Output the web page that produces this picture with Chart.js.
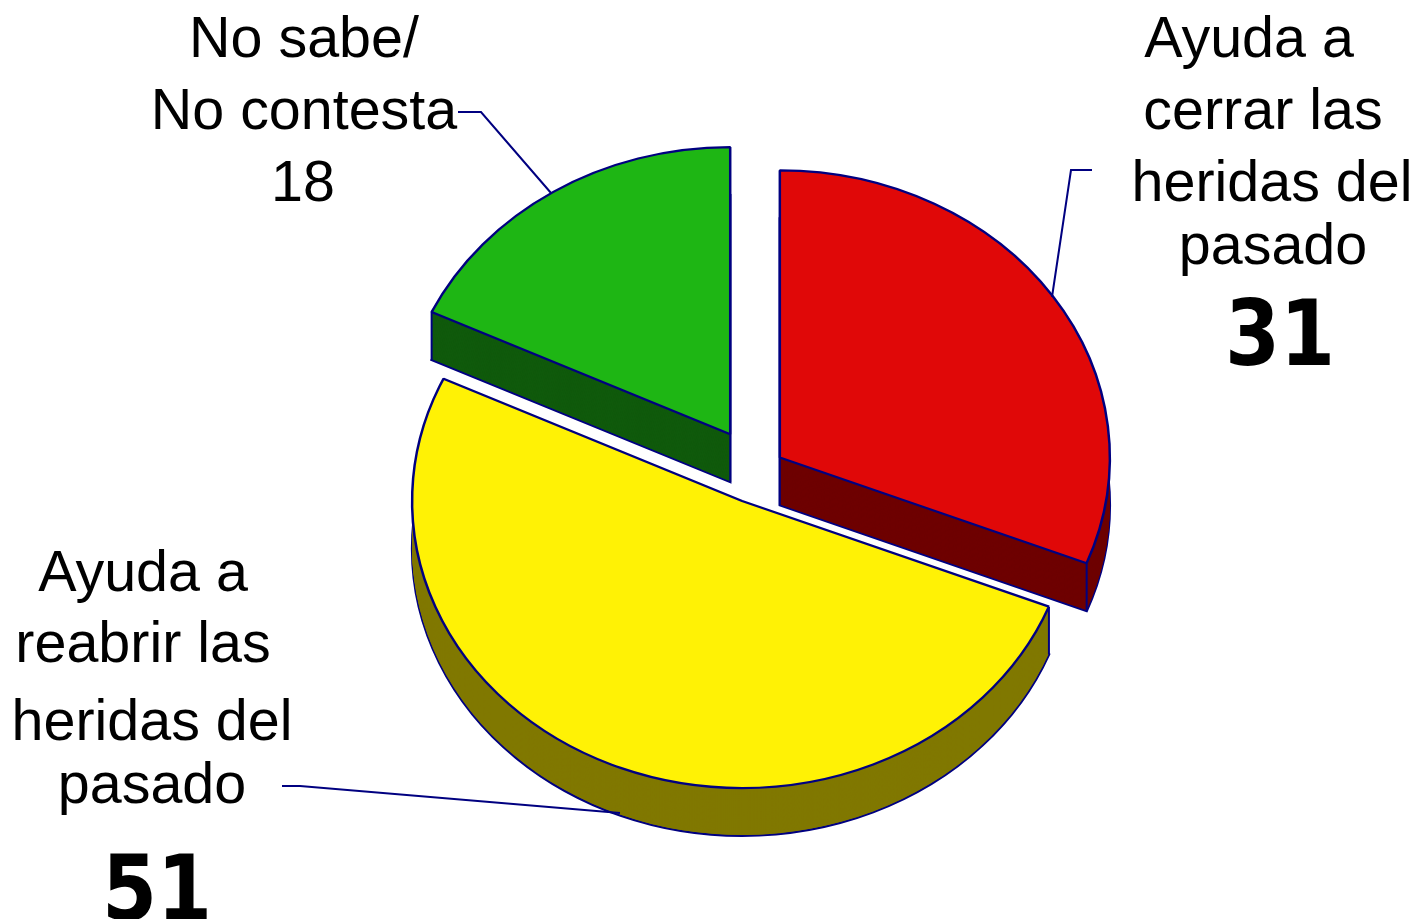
<!DOCTYPE html>
<html>
<head>
<meta charset="utf-8">
<style>
  html, body { margin: 0; padding: 0; background: #fff; overflow: hidden; }
  canvas { display: block; }
</style>
<script src="https://cdn.jsdelivr.net/npm/chart.js@4/dist/chart.umd.min.js"></script>
</head>
<body>
<canvas id="myPieChart" width="1418" height="919"></canvas>
<script>
var categories = ['Ayuda a cerrar las heridas del pasado', 'Ayuda a reabrir las heridas del pasado', 'No sabe/No contesta'];
var values = [31, 51, 18];

var topColors = ['#E00808', '#FFF205', '#1EB614'];
var sideColors = ['#6E0000', '#807800', '#105A0C'];
var explode = [27.6, 37.5, 50]; // separacion de cada sector
var lineColor = '#000080';
var squash = 0.87;   // el circulo se ve como elipse
var depth = 55;      // grosor del pastel, antes de aplastar
var centerY = 471;   // centro del pastel en pantalla

// texto de cada etiqueta: [linea, centro x, base y]
var labelLines = [
    [['Ayuda a', 1249, 57], ['cerrar las', 1263, 129], ['heridas del', 1272, 201], ['pasado', 1273, 264]],
    [['Ayuda a', 143, 591], ['reabrir las', 143, 662], ['heridas del', 152, 740], ['pasado', 152, 803]],
    [['No sabe/', 304, 57], ['No contesta', 304, 129]]
];
var valueSpots = [[1280, 365, true], [157, 920, true], [303, 201, false]];
var leaders = [
    [[1092, 170], [1071, 170], [1052, 297]],
    [[282, 786], [300, 786], [620, 813]],
    [[458, 112], [481, 112], [551, 193]]
];

function slicePath(ctx, arc, shift) {
    ctx.beginPath();
    ctx.moveTo(arc.x, arc.y + shift);
    ctx.arc(arc.x, arc.y + shift, arc.outerRadius, arc.startAngle, arc.endAngle);
    ctx.closePath();
}

// escribe el texto un poco mas angosto, como la fuente original
function narrowText(ctx, text, x, y, ratio) {
    ctx.fillText(text, x, y, ctx.measureText(text).width * ratio);
}

var pie3d = {
    id: 'pie3d',
    // separa los sectores a mano, el offset de la libreria cambia el radio
    afterDatasetsUpdate: function(chart) {
        chart.getDatasetMeta(0).data.forEach(function(arc, i) {
            var mid = (arc.startAngle + arc.endAngle) / 2;
            arc.x += Math.cos(mid) * explode[i];
            arc.y += Math.sin(mid) * explode[i];
        });
    },
    beforeDatasetsDraw: function(chart) {
        var ctx = chart.ctx;
        var midY = (chart.chartArea.top + chart.chartArea.bottom) / 2;
        ctx.save();
        ctx.translate(0, centerY);
        ctx.scale(1, squash);
        ctx.translate(0, -midY);

        chart.getDatasetMeta(0).data.forEach(function(arc, i) {
            ctx.fillStyle = sideColors[i];
            ctx.strokeStyle = lineColor;
            ctx.lineWidth = 2.5;
            // la base con su borde, luego las capas tapan lo que queda adentro
            slicePath(ctx, arc, depth);
            ctx.fill();
            ctx.stroke();
            for (var d = depth - 1; d > 0; d--) {
                slicePath(ctx, arc, d);
                ctx.fill();
            }
            ctx.lineWidth = 2;
            [arc.startAngle, arc.endAngle].forEach(function(a) {
                // la arista de arriba queda escondida
                if (Math.sin(a) < -0.9) return;
                var px = arc.x + Math.cos(a) * arc.outerRadius;
                var py = arc.y + Math.sin(a) * arc.outerRadius;
                ctx.beginPath();
                ctx.moveTo(px, py);
                ctx.lineTo(px, py + depth);
                ctx.stroke();
            });
            ctx.beginPath();
            ctx.moveTo(arc.x, arc.y);
            ctx.lineTo(arc.x, arc.y + depth);
            ctx.stroke();
        });
    },
    afterDatasetsDraw: function(chart) {
        chart.ctx.restore();
    },
    afterDraw: function(chart) {
        var ctx = chart.ctx;
        ctx.save();
        ctx.strokeStyle = lineColor;
        ctx.lineWidth = 2;
        leaders.forEach(function(pts) {
            ctx.beginPath();
            pts.forEach(function(p, k) {
                if (k === 0) ctx.moveTo(p[0], p[1]); else ctx.lineTo(p[0], p[1]);
            });
            ctx.stroke();
        });
        ctx.fillStyle = '#000';
        ctx.textAlign = 'center';
        ctx.textBaseline = 'alphabetic';
        ctx.font = '58px "Liberation Sans"';
        labelLines.forEach(function(lines) {
            lines.forEach(function(l) {
                narrowText(ctx, l[0], l[1], l[2], 0.99);
            });
        });
        values.forEach(function(v, i) {
            var s = valueSpots[i];
            ctx.font = s[2] ? 'bold 90px "DejaVu Sans"' : '58px "Liberation Sans"';
            narrowText(ctx, String(v), s[0], s[1], s[2] ? 0.88 : 0.99);
        });
        ctx.restore();
    }
};

var ctx = document.getElementById('myPieChart').getContext('2d');

var myPieChart = new Chart(ctx, {
    type: 'pie',
    data: {
        labels: categories,
        datasets: [{
            data: values,
            backgroundColor: topColors,
            borderColor: lineColor,
            borderWidth: 2.5,
            clip: false
        }]
    },
    options: {
        responsive: false,
        animation: false,
        radius: 330,
        layout: { padding: { left: 96 } },
        plugins: {
            legend: { display: false },
            tooltip: { enabled: false }
        }
    },
    plugins: [pie3d]
});
</script>
</body>
</html>
